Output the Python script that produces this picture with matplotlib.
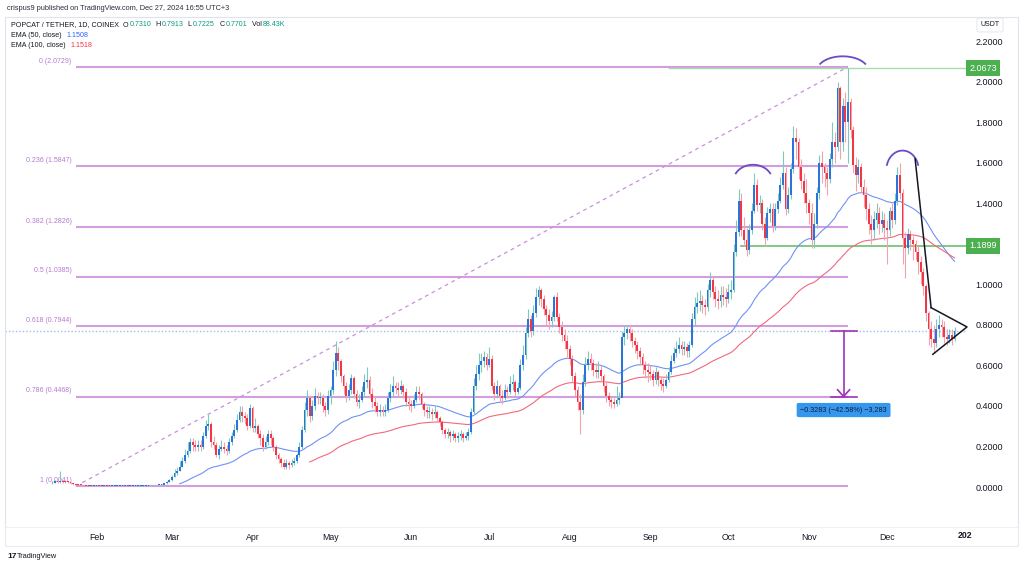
import numpy as np
import pandas as pd
import matplotlib
matplotlib.use("Agg")
import matplotlib.pyplot as plt
import matplotlib.dates as mdates
from matplotlib.patches import Rectangle
from matplotlib.transforms import blended_transform_factory

plt.rcParams['font.family'] = ['Liberation Sans', 'DejaVu Sans']

# ---- daily POPCAT/USDT candles, 15 Jan - 27 Dec 2024 ----
first_open = 0.018
close_jan = [0.022, 0.028, 0.025, 0.030, 0.027, 0.026, 0.024, 0.020, 0.016, 0.012, 0.010, 0.009, 0.008, 0.007, 0.007, 0.006, 0.006]
high_jan = [0.030, 0.034, 0.032, 0.080, 0.036, 0.032, 0.030, 0.026, 0.022, 0.017, 0.014, 0.012, 0.011, 0.010, 0.009, 0.008, 0.008]
low_jan = [0.015, 0.020, 0.020, 0.022, 0.022, 0.020, 0.018, 0.016, 0.012, 0.009, 0.008, 0.007, 0.006, 0.005, 0.005, 0.005, 0.004]

close_feb = [0.006, 0.005, 0.005, 0.005, 0.004, 0.004, 0.005, 0.005, 0.005, 0.005, 0.006, 0.006, 0.005, 0.005, 0.006,
             0.006, 0.006, 0.007, 0.007, 0.007, 0.008, 0.008, 0.008, 0.009, 0.010, 0.012, 0.018, 0.025, 0.035]
high_feb = [0.008, 0.007, 0.007, 0.006, 0.006, 0.006, 0.006, 0.007, 0.006, 0.007, 0.008, 0.008, 0.007, 0.007, 0.008,
            0.008, 0.008, 0.009, 0.009, 0.009, 0.010, 0.010, 0.010, 0.011, 0.012, 0.015, 0.022, 0.030, 0.042]
low_feb = [0.005, 0.004, 0.004, 0.004, 0.003, 0.003, 0.004, 0.004, 0.004, 0.004, 0.005, 0.005, 0.004, 0.004, 0.005,
           0.005, 0.005, 0.006, 0.006, 0.006, 0.007, 0.007, 0.007, 0.008, 0.009, 0.010, 0.012, 0.017, 0.023]

close_mar = [0.05, 0.07, 0.08, 0.10, 0.13, 0.16, 0.18, 0.22, 0.21, 0.20, 0.21, 0.20, 0.25, 0.30, 0.31, 0.22,
             0.21, 0.16, 0.19, 0.20, 0.19, 0.18, 0.22, 0.25, 0.28, 0.33, 0.37, 0.35, 0.34, 0.30, 0.39]
high_mar = [0.06, 0.09, 0.10, 0.13, 0.15, 0.19, 0.22, 0.24, 0.24, 0.23, 0.23, 0.23, 0.27, 0.33, 0.36, 0.32,
            0.25, 0.22, 0.21, 0.23, 0.22, 0.21, 0.24, 0.27, 0.31, 0.36, 0.40, 0.40, 0.37, 0.36, 0.41]
low_mar = [0.03, 0.05, 0.06, 0.08, 0.10, 0.12, 0.15, 0.17, 0.18, 0.18, 0.18, 0.18, 0.19, 0.24, 0.28, 0.20,
           0.19, 0.15, 0.14, 0.18, 0.17, 0.16, 0.17, 0.21, 0.24, 0.27, 0.32, 0.32, 0.31, 0.28, 0.29]

close_apr = [0.29, 0.30, 0.26, 0.24, 0.20, 0.22, 0.26, 0.24, 0.20, 0.16, 0.14, 0.12, 0.10, 0.12, 0.11,
             0.12, 0.13, 0.16, 0.20, 0.28, 0.38, 0.44, 0.35, 0.40, 0.45, 0.44, 0.44, 0.40, 0.38, 0.45]
high_apr = [0.40, 0.34, 0.31, 0.28, 0.26, 0.25, 0.28, 0.28, 0.25, 0.21, 0.17, 0.15, 0.14, 0.14, 0.13,
            0.14, 0.15, 0.17, 0.22, 0.30, 0.42, 0.48, 0.45, 0.43, 0.49, 0.47, 0.47, 0.46, 0.42, 0.48]
low_apr = [0.27, 0.27, 0.24, 0.21, 0.18, 0.19, 0.21, 0.21, 0.18, 0.14, 0.12, 0.10, 0.09, 0.09, 0.09,
           0.10, 0.11, 0.12, 0.15, 0.19, 0.27, 0.35, 0.32, 0.33, 0.38, 0.41, 0.41, 0.37, 0.35, 0.36]

close_may = [0.48, 0.58, 0.66, 0.62, 0.55, 0.50, 0.45, 0.48, 0.54, 0.46, 0.42, 0.43, 0.47, 0.52, 0.53, 0.46,
             0.42, 0.40, 0.37, 0.38, 0.37, 0.38, 0.44, 0.47, 0.50, 0.49, 0.48, 0.50, 0.47, 0.42, 0.41]
high_may = [0.50, 0.62, 0.72, 0.69, 0.63, 0.56, 0.52, 0.51, 0.56, 0.55, 0.48, 0.46, 0.50, 0.56, 0.59, 0.55,
            0.49, 0.45, 0.42, 0.41, 0.40, 0.41, 0.47, 0.51, 0.55, 0.52, 0.52, 0.53, 0.51, 0.49, 0.45]
low_may = [0.41, 0.46, 0.55, 0.58, 0.52, 0.46, 0.42, 0.43, 0.46, 0.44, 0.40, 0.39, 0.42, 0.45, 0.49, 0.44,
           0.39, 0.37, 0.35, 0.35, 0.35, 0.35, 0.37, 0.42, 0.45, 0.46, 0.45, 0.46, 0.44, 0.40, 0.38]

close_jun = [0.40, 0.43, 0.47, 0.46, 0.41, 0.38, 0.37, 0.37, 0.36, 0.37, 0.34, 0.32, 0.28, 0.26, 0.27,
             0.25, 0.26, 0.24, 0.25, 0.26, 0.24, 0.25, 0.27, 0.37, 0.50, 0.56, 0.60, 0.62, 0.64, 0.60]
high_jun = [0.43, 0.46, 0.50, 0.50, 0.47, 0.42, 0.40, 0.40, 0.39, 0.40, 0.38, 0.35, 0.33, 0.29, 0.29,
            0.28, 0.28, 0.27, 0.27, 0.28, 0.27, 0.27, 0.29, 0.39, 0.54, 0.60, 0.66, 0.66, 0.67, 0.66]
low_jun = [0.37, 0.39, 0.42, 0.43, 0.39, 0.35, 0.34, 0.34, 0.33, 0.34, 0.32, 0.30, 0.26, 0.24, 0.24,
           0.22, 0.23, 0.22, 0.22, 0.23, 0.22, 0.23, 0.23, 0.26, 0.36, 0.48, 0.53, 0.57, 0.59, 0.58]

close_jul = [0.63, 0.50, 0.46, 0.50, 0.45, 0.44, 0.48, 0.47, 0.51, 0.52, 0.47, 0.49, 0.60, 0.65, 0.76, 0.83,
             0.77, 0.86, 0.94, 0.97, 0.93, 0.88, 0.85, 0.82, 0.84, 0.94, 0.84, 0.79, 0.75, 0.72, 0.68]
high_jul = [0.69, 0.65, 0.52, 0.53, 0.51, 0.48, 0.51, 0.50, 0.55, 0.56, 0.53, 0.52, 0.63, 0.70, 0.79, 0.88,
            0.85, 0.90, 0.98, 0.99, 0.98, 0.95, 0.90, 0.88, 0.87, 0.95, 0.96, 0.86, 0.82, 0.78, 0.75]
low_jul = [0.59, 0.48, 0.43, 0.44, 0.42, 0.41, 0.43, 0.44, 0.46, 0.48, 0.45, 0.46, 0.48, 0.58, 0.63, 0.74,
           0.74, 0.75, 0.84, 0.90, 0.89, 0.85, 0.80, 0.78, 0.79, 0.82, 0.82, 0.76, 0.72, 0.68, 0.64]

close_aug = [0.63, 0.55, 0.48, 0.42, 0.38, 0.52, 0.60, 0.63, 0.61, 0.58, 0.57, 0.58, 0.55, 0.50, 0.45, 0.43,
             0.42, 0.41, 0.43, 0.44, 0.74, 0.76, 0.78, 0.76, 0.72, 0.70, 0.67, 0.64, 0.60, 0.58, 0.57]
high_aug = [0.70, 0.65, 0.57, 0.50, 0.46, 0.56, 0.64, 0.67, 0.66, 0.63, 0.61, 0.62, 0.60, 0.56, 0.52, 0.47,
            0.45, 0.44, 0.50, 0.47, 0.77, 0.80, 0.80, 0.80, 0.78, 0.74, 0.72, 0.69, 0.66, 0.62, 0.61]
low_aug = [0.60, 0.52, 0.45, 0.38, 0.26, 0.36, 0.50, 0.58, 0.58, 0.55, 0.54, 0.54, 0.52, 0.47, 0.42, 0.40,
           0.39, 0.39, 0.40, 0.41, 0.52, 0.70, 0.73, 0.72, 0.69, 0.66, 0.63, 0.60, 0.56, 0.54, 0.52]

close_sep = [0.56, 0.53, 0.57, 0.53, 0.51, 0.50, 0.53, 0.57, 0.62, 0.66, 0.68, 0.70, 0.68, 0.69, 0.67,
             0.70, 0.83, 0.89, 0.91, 0.92, 0.90, 0.89, 0.97, 1.02, 0.96, 0.93, 0.92, 0.95, 0.94, 0.93]
high_sep = [0.60, 0.58, 0.59, 0.58, 0.55, 0.54, 0.56, 0.59, 0.65, 0.69, 0.72, 0.74, 0.72, 0.72, 0.71,
            0.72, 0.86, 0.94, 0.96, 0.97, 0.95, 0.93, 1.00, 1.06, 1.04, 0.99, 0.97, 0.99, 0.99, 0.98]
low_sep = [0.53, 0.50, 0.51, 0.50, 0.48, 0.47, 0.49, 0.52, 0.56, 0.61, 0.64, 0.66, 0.65, 0.65, 0.64,
           0.64, 0.69, 0.80, 0.86, 0.87, 0.86, 0.85, 0.87, 0.94, 0.93, 0.89, 0.88, 0.89, 0.90, 0.89]

close_oct = [0.96, 0.97, 1.16, 1.26, 1.41, 1.27, 1.22, 1.17, 1.27, 1.36, 1.49, 1.39, 1.40, 1.30, 1.23, 1.35,
             1.37, 1.29, 1.37, 1.41, 1.49, 1.55, 1.37, 1.44, 1.57, 1.72, 1.70, 1.58, 1.51, 1.45, 1.40]
high_oct = [1.00, 1.02, 1.20, 1.32, 1.47, 1.45, 1.33, 1.28, 1.30, 1.40, 1.55, 1.52, 1.44, 1.42, 1.33, 1.38,
            1.40, 1.40, 1.40, 1.45, 1.53, 1.66, 1.58, 1.48, 1.60, 1.78, 1.77, 1.72, 1.62, 1.55, 1.52]
low_oct = [0.91, 0.93, 0.96, 1.14, 1.24, 1.24, 1.19, 1.14, 1.15, 1.25, 1.35, 1.36, 1.35, 1.27, 1.19, 1.22,
           1.31, 1.26, 1.27, 1.35, 1.40, 1.47, 1.34, 1.35, 1.42, 1.55, 1.62, 1.52, 1.47, 1.40, 1.35]

close_nov = [1.35, 1.22, 1.30, 1.45, 1.60, 1.58, 1.55, 1.52, 1.62, 1.70, 1.68, 1.97, 1.70, 1.88, 1.80,
             1.90, 1.76, 1.59, 1.54, 1.58, 1.48, 1.44, 1.37, 1.30, 1.27, 1.32, 1.35, 1.30, 1.32, 1.28]
high_nov = [1.42, 1.40, 1.35, 1.48, 1.64, 1.66, 1.60, 1.58, 1.65, 1.80, 1.75, 2.00, 1.98, 1.92, 1.95,
            2.0673, 1.92, 1.78, 1.63, 1.62, 1.60, 1.52, 1.48, 1.40, 1.34, 1.36, 1.40, 1.38, 1.36, 1.35]
low_nov = [1.30, 1.18, 1.18, 1.28, 1.42, 1.50, 1.48, 1.44, 1.50, 1.58, 1.60, 1.66, 1.62, 1.66, 1.70,
           1.60, 1.72, 1.55, 1.46, 1.50, 1.45, 1.38, 1.32, 1.25, 1.20, 1.22, 1.28, 1.25, 1.26, 1.22]

close_dec = [1.27, 1.36, 1.32, 1.41, 1.54, 1.45, 1.23, 1.18, 1.25, 1.22, 1.20, 1.16, 1.11, 1.06,
             0.99, 0.86, 0.78, 0.73, 0.71, 0.78, 0.80, 0.79, 0.74, 0.73, 0.75, 0.731, 0.7701]
high_dec = [1.32, 1.38, 1.40, 1.45, 1.58, 1.60, 1.47, 1.26, 1.28, 1.27, 1.24, 1.22, 1.19, 1.14,
            1.08, 1.00, 0.87, 0.82, 0.80, 0.83, 0.85, 0.83, 0.82, 0.78, 0.78, 0.78, 0.7913]
low_dec = [1.10, 1.24, 1.28, 1.30, 1.39, 1.42, 1.10, 1.03, 1.15, 1.17, 1.12, 1.12, 1.05, 1.00,
           0.95, 0.82, 0.70, 0.69, 0.66, 0.69, 0.74, 0.74, 0.71, 0.70, 0.71, 0.70, 0.7225]

fib_ratios = [0, 0.236, 0.382, 0.5, 0.618, 0.786, 1]
fib_prices = [2.0729, 1.5847, 1.2826, 1.0385, 0.7944, 0.4468, 0.0041]
last_price = 0.7701
support_prices = [2.0673, 1.1899]
measure_text = "\u22120.3283 (\u221242.58%) \u22123,283"
month_names = ["Feb", "Mar", "Apr", "May", "Jun", "Jul", "Aug", "Sep", "Oct", "Nov", "Dec"]
price_ticks = [0.0, 0.2, 0.4, 0.6, 0.8, 1.0, 1.4, 1.6, 1.8, 2.0, 2.2]   # 1.2 is hidden under the 1.1899 tag

closes = np.array(close_jan + close_feb + close_mar + close_apr + close_may + close_jun +
                  close_jul + close_aug + close_sep + close_oct + close_nov + close_dec)
highs = np.array(high_jan + high_feb + high_mar + high_apr + high_may + high_jun +
                 high_jul + high_aug + high_sep + high_oct + high_nov + high_dec)
lows = np.array(low_jan + low_feb + low_mar + low_apr + low_may + low_jun +
                low_jul + low_aug + low_sep + low_oct + low_nov + low_dec)
opens = np.concatenate([[first_open], closes[:-1]])
dates = pd.date_range("2024-01-15", periods=len(closes), freq="D")
x = mdates.date2num(dates)


def ema(values, n):
    out = np.full(len(values), np.nan)
    out[n - 1] = values[:n].mean()
    a = 2.0 / (n + 1)
    for i in range(n, len(values)):
        out[i] = a * values[i] + (1 - a) * out[i - 1]
    return out


def d(s):
    return mdates.date2num(pd.Timestamp(s))


W, H = 1024, 568
fig = plt.figure(figsize=(W / 100, H / 100), dpi=100)
ax = fig.add_axes([5 / W, 1 - 527 / H, 962 / W, 510 / H])
feb1 = d("2024-02-01")
ax.set_xlim(feb1 - 35.2, feb1 + 334.8)
ax.set_ylim(-0.197, 2.319)

# outer frame
fig.patches.append(Rectangle((5 / W, 1 - 546 / H), 1013 / W, 529 / H, transform=fig.transFigure,
                             fill=False, ec="#e0e3eb", lw=0.8))
fig.patches.append(Rectangle((5 / W, 1 - 546 / H), 1013 / W, 19 / H, transform=fig.transFigure,
                             fill=False, ec="#eceef2", lw=0.6))

# fibonacci retracement
fib_x0, fib_x1 = d("2024-01-24"), d("2024-11-16")
for r, p in zip(fib_ratios, fib_prices):
    ax.plot([fib_x0, fib_x1], [p, p], color="#d29ede", lw=1.5, solid_capstyle="butt", zorder=1)
    ax.annotate(f"{r:g} ({p:.4f})", (fib_x0, p), xytext=(-3, 1.5), textcoords="offset points",
                ha="right", va="bottom", fontsize=5, color="#b77ad0")
ax.plot([fib_x0, fib_x1], [fib_prices[-1], fib_prices[0]], color="#c98fdc", lw=0.9,
        ls=(0, (3, 3)), zorder=1)

# horizontal supports
ax.plot([d("2024-09-08"), ax.get_xlim()[1]], [support_prices[0]] * 2, color="#a8dcaa", lw=1, zorder=1)
ax.plot([d("2024-10-06"), ax.get_xlim()[1]], [support_prices[1]] * 2, color="#6cc070", lw=1.2, zorder=1)

# last price line
ax.axhline(last_price, color="#9dbcf2", lw=1, ls=(0, (1, 1.5)), zorder=1)

# EMAs
e50 = ema(closes, 50)
e100 = ema(closes, 100)
ax.plot(x, e50, color="#6f93f4", lw=0.8, zorder=2)
ax.plot(x, e100, color="#f0697f", lw=0.8, zorder=2)

# candles
up = closes >= opens
wick_col = np.where(up, "#7ccbbd", "#f5a3ab")
body_col = np.where(up, "#2a74dc", "#f23645")
ax.vlines(x, lows, highs, colors=wick_col, lw=0.8, zorder=3)
body_h = np.maximum(np.abs(closes - opens), 0.004)
ax.bar(x, body_h, bottom=np.minimum(opens, closes), width=0.72, color=body_col, lw=0, zorder=4)

# head & shoulders arcs (drawn as elliptical arcs in data space)
for cx, cy, w, h, t1, t2 in [(d("2024-10-10 12:00"), 1.51, 15, 0.16, 28, 152),
                             (d("2024-11-14"), 2.055, 19.6, 0.14, 28, 152),
                             (d("2024-12-07"), 1.565, 12.4, 0.19, 15, 165)]:
    t = np.radians(np.linspace(t1, t2, 60))
    ax.plot(cx + w / 2 * np.cos(t), cy + h / 2 * np.sin(t), color="#6a4cc4", lw=1.3, zorder=5)

# black breakdown line and pennant
ax.plot([d("2024-12-11 20:00"), d("2024-12-18")], [1.62, 0.885], color="#131722", lw=1.1, zorder=6)
ax.plot([d("2024-12-18"), d("2024-12-31 19:00"), d("2024-12-18 16:00")], [0.885, 0.79, 0.655],
        color="#131722", lw=1.1, zorder=6, clip_on=False)

# measurement tool
mx = d("2024-11-14 08:00")
mc = "#9c34b8"
ax.plot([mx, mx], [last_price, fib_prices[5]], color=mc, lw=1.2, zorder=6)
ax.plot([mx - 5, mx + 5], [last_price] * 2, color=mc, lw=1.2, zorder=6)
ax.plot([mx - 5, mx + 5], [fib_prices[5]] * 2, color=mc, lw=1.2, zorder=6)
ax.plot([mx - 2.3, mx, mx + 2.3], [0.48, fib_prices[5], 0.48], color=mc, lw=1.2, zorder=6)
ax.text(mx, 0.38, measure_text, ha="center", va="center", fontsize=5.2, color="#10203a", zorder=7,
        bbox=dict(boxstyle="round,pad=0.5,rounding_size=0.25", fc="#3598ee", ec="none"))

# axes styling
for s in ax.spines.values():
    s.set_visible(False)
ax.yaxis.tick_right()
ax.set_yticks(price_ticks)
ax.set_yticklabels([f"{v:.4f}" for v in price_ticks])
ax.tick_params(axis="y", length=0, pad=6, labelsize=6.5, labelcolor="#131722")
ax.set_xticks([d(f"2024-{m:02d}-01") for m in range(2, 13)])
ax.set_xticklabels(month_names)
ax.tick_params(axis="x", length=0, pad=4, labelsize=6.3, labelcolor="#131722")
fig.text(965 / W, 1 - 536 / H, "202", ha="center", va="center", fontsize=6.3, weight="bold", color="#131722")

# right axis price tags
tr = blended_transform_factory(ax.transAxes, ax.transData)
for p in support_prices:
    ax.text(1.0025, p, f"{p:.4f}", transform=tr, ha="left", va="center", fontsize=6.5, color="white",
            bbox=dict(boxstyle="square,pad=0.35", fc="#4caf50", ec="none"), clip_on=False)
fig.text(990 / W, 1 - 25 / H, "USDT", ha="center", va="center", fontsize=5, color="#131722",
         bbox=dict(boxstyle="round,pad=0.5,rounding_size=0.3", fc="white", ec="#e0e3eb", lw=0.6))

# header and legend
fig.text(7 / W, 1 - 8 / H, "crispus9 published on TradingView.com, Dec 27, 2024 16:55 UTC+3",
         ha="left", va="center", fontsize=5.3, color="#2a2e39")


def chain(parts, x0, y0, size=5.1):
    t = fig.text(x0 / W, 1 - y0 / H, parts[0][0], color=parts[0][1], fontsize=size, ha="left", va="center")
    for s, c in parts[1:]:
        t = ax.annotate(s, xy=(1, 0.5), xycoords=t, xytext=(0.5, 0), textcoords="offset points",
                        ha="left", va="center", fontsize=size, color=c, annotation_clip=False)


dark, teal = "#131722", "#089981"
chain([("POPCAT / TETHER, 1D, COINEX  O", dark), ("0.7310", teal), ("  H", dark), ("0.7913", teal),
       ("  L", dark), ("0.7225", teal), ("  C", dark), ("0.7701", teal), ("  Vol", dark), ("88.43K", teal)], 11, 25)
chain([("EMA (50, close)  ", dark), ("1.1508", "#2962ff")], 11, 35.5)
chain([("EMA (100, close)  ", dark), ("1.1518", "#f23645")], 11, 45.5)

# logo
fig.text(7 / W, 1 - 556 / H, "17", ha="left", va="center", fontsize=6, weight="heavy", color="#131722")
fig.text(17 / W, 1 - 556 / H, "TradingView", ha="left", va="center", fontsize=5.3, color="#131722")

fig.savefig("out.png", dpi=100)
